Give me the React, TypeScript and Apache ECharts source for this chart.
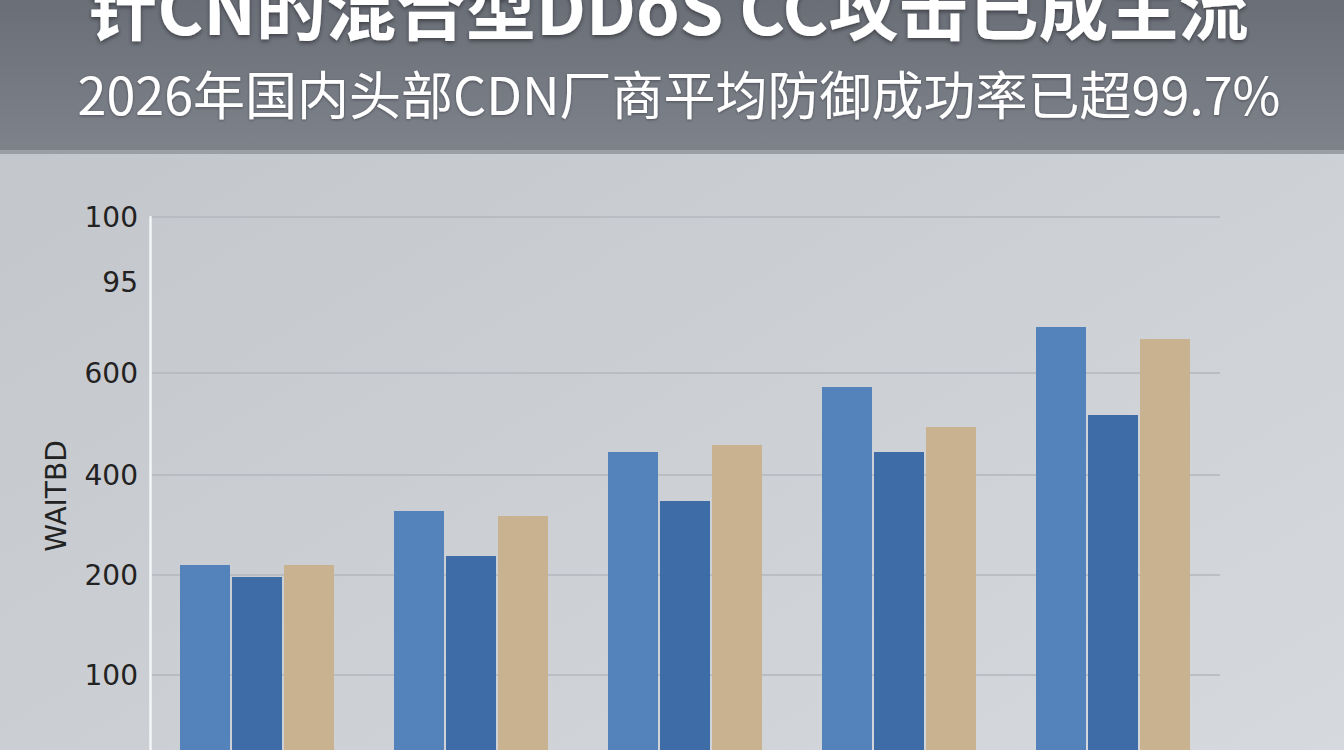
import { useEffect, useRef } from 'react';
import * as echarts from 'echarts';

// the chart is cut off at the bottom, the x axis is not visible
const categories = ['1', '2', '3', '4', '5'];
const seriesNames = ['系列一', '系列二', '系列三'];
const lightBlueValues = [210, 264, 323, 388, 448];
const darkBlueValues = [198, 219, 274, 323, 360];
const tanValues = [210, 259, 330, 348, 436];

// y labels as printed on the picture (the printed scale is not linear)
const yLabelValues = [100, 200, 300, 402, 493, 558];
const yLabelTexts = ['100', '200', '400', '600', '95', '100'];
const yGridValues = [100, 200, 300, 402, 558];

const titleText = '针CN的混合型DDoS CC攻击已成主流';
const subtitleText = '2026年国内头部CDN厂商平均防御成功率已超99.7%';
const yAxisName = 'WAITBD';

export default function App() {
  const chartRef = useRef<HTMLDivElement>(null);

  useEffect(() => {
    if (!chartRef.current) return;
    const chart = echarts.init(chartRef.current, null, { renderer: 'svg' });

    const option: echarts.EChartsOption = {
      animation: false,
      backgroundColor: {
        type: 'linear',
        x: 0,
        y: 0,
        x2: 1,
        y2: 1,
        colorStops: [
          { offset: 0, color: '#c1c4c9' },
          { offset: 1, color: '#d6d9dd' },
        ],
      },
      graphic: [
        {
          type: 'rect',
          shape: { x: 0, y: 0, width: 1344, height: 152 },
          style: {
            fill: {
              type: 'linear',
              x: 0,
              y: 0,
              x2: 0,
              y2: 1,
              colorStops: [
                { offset: 0, color: '#6a6e77' },
                { offset: 1, color: '#7e828b' },
              ],
            } as any,
          },
          silent: true,
        },
        {
          type: 'rect',
          shape: { x: 0, y: 150, width: 1344, height: 4 },
          style: { fill: '#9a9ea5' },
          silent: true,
        },
        {
          type: 'text',
          x: 668,
          y: 4,
          style: {
            text: titleText,
            fill: '#ffffff',
            font: 'bold 70px "Noto Sans CJK SC", sans-serif',
            align: 'center',
            verticalAlign: 'middle',
            textShadowColor: 'rgba(0,0,0,0.45)',
            textShadowBlur: 4,
            textShadowOffsetY: 2,
          } as any,
          silent: true,
        },
        {
          type: 'text',
          x: 679,
          y: 92,
          style: {
            text: subtitleText,
            fill: '#ffffff',
            font: '52px "Noto Sans CJK SC", sans-serif',
            align: 'center',
            verticalAlign: 'middle',
            textShadowColor: 'rgba(0,0,0,0.35)',
            textShadowBlur: 3,
            textShadowOffsetY: 1,
          } as any,
          silent: true,
        },
      ],
      grid: { left: 150, right: 124, top: 217, bottom: 25 },
      xAxis: {
        type: 'category',
        data: categories,
        axisLine: { show: false },
        axisTick: { show: false },
        axisLabel: { show: false },
      },
      yAxis: {
        type: 'value',
        min: 0,
        max: 558,
        name: yAxisName,
        nameLocation: 'middle',
        nameRotate: 90,
        nameGap: 80,
        nameTextStyle: { fontSize: 28, color: '#222', fontFamily: 'DejaVu Sans' },
        axisLine: { show: true, lineStyle: { color: '#f3f5f7', width: 2.5 } },
        axisTick: { show: false, customValues: yGridValues } as any,
        axisLabel: {
          customValues: yLabelValues,
          formatter: (v: number) => {
            const i = yLabelValues.indexOf(v);
            return i >= 0 ? yLabelTexts[i] : '';
          },
          fontSize: 28,
          color: '#222',
          fontFamily: 'DejaVu Sans',
          margin: 12,
        } as any,
        splitLine: { show: true, lineStyle: { color: '#b3b7bd', width: 1.5 } },
      },
      series: [
        {
          name: seriesNames[0],
          type: 'bar',
          data: lightBlueValues,
          barWidth: 50,
          barGap: '4%',
          itemStyle: { color: '#5383ba' },
        },
        {
          name: seriesNames[1],
          type: 'bar',
          data: darkBlueValues,
          barWidth: 50,
          barGap: '4%',
          itemStyle: { color: '#3d6ca6' },
        },
        {
          name: seriesNames[2],
          type: 'bar',
          data: tanValues,
          barWidth: 50,
          barGap: '4%',
          itemStyle: { color: '#c9b28f' },
        },
      ],
    };

    chart.setOption(option);
    return () => chart.dispose();
  }, []);

  return (
    <div
      style={{
        position: 'fixed',
        left: 0,
        top: 0,
        width: 1344,
        height: 750,
        overflow: 'hidden',
      }}
    >
      <div ref={chartRef} style={{ width: 1344, height: 800 }} />
    </div>
  );
}
